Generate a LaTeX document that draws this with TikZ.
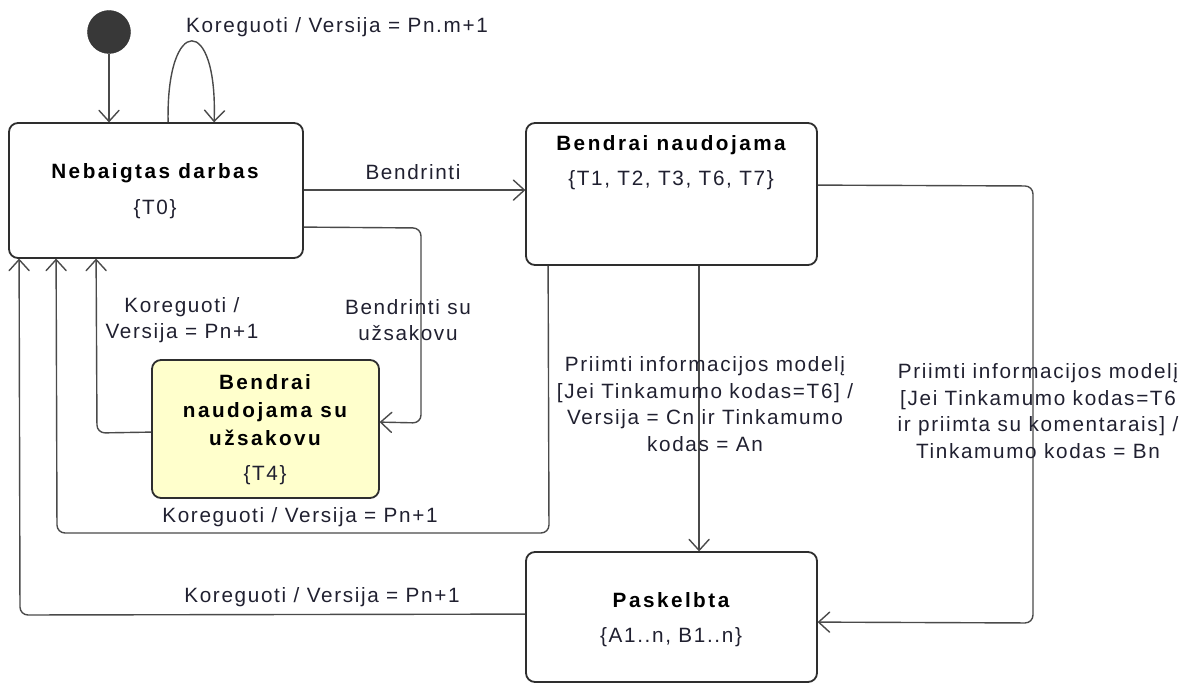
\documentclass[tikz,border=0pt]{standalone}
\usepackage{fontspec}
\setmainfont{Liberation Sans}[LetterSpace=8]
\usetikzlibrary{arrows.meta,calc}
\definecolor{ln}{HTML}{4A4A4A}
\definecolor{bd}{HTML}{2E2E2E}
\definecolor{yel}{HTML}{FFFFCC}
\definecolor{tx}{HTML}{202030}
\tikzset{
  box/.style={draw=bd, line width=1.8pt, rounded corners=9pt, fill=white, inner sep=0pt},
  arr/.style={draw=ln, line width=1.4pt, rounded corners=8pt,
    -{Straight Barb[length=11pt,width=20pt,line width=1.4pt,round]}},
  lbl/.style={font=\fontsize{20.7}{26.5}\selectfont, text=tx, align=center, inner sep=0pt},
  ttl/.style={font=\fontsize{20.7}{28}\selectfont\bfseries\addfontfeature{LetterSpace=12}, text=black, align=center, inner sep=0pt}
}
\begin{document}
\begin{tikzpicture}[x=1pt,y=-1pt]
\useasboundingbox (0,0) rectangle (1186,684);
% states
\node[box, minimum width=294pt, minimum height=135pt] (neb) at (156,190.5) {};
\node[box, minimum width=291pt, minimum height=142pt] (ben) at (671.5,194) {};
\node[box, fill=yel, minimum width=227pt, minimum height=138pt] (usz) at (265.5,429) {};
\node[box, minimum width=291pt, minimum height=130pt] (pas) at (671.5,617) {};
\node[circle, fill=bd!95, draw=bd, minimum size=43pt, inner sep=0pt] (init) at (109,32) {};
% state texts
\node[ttl] (nebT) at (155,173) {Nebaigtas darbas};
\node[lbl] (nebS) at (155,209) {\{T0\}};
\node[ttl] (benT) at (671,145) {Bendrai naudojama};
\node[lbl] (benS) at (671,180) {\{T1, T2, T3, T6, T7\}};
\node[ttl] (uszT) at (265,410) {Bendrai\\naudojama su\\užsakovu};
\node[lbl] (uszS) at (265,475) {\{T4\}};
\node[ttl] (pasT) at (671,600) {Paskelbta};
\node[lbl] (pasS) at (671,637) {\{A1..n, B1..n\}};
% connectors
\draw[arr] (init) -- (neb.north -| init);
\draw[arr] ($(neb.north west)+(160,0)$) .. controls (166,14) and (218,14) .. ($(neb.north west)+(206,0)$);
\draw[arr] ($(neb.north east)+(0,68)$) -- ($(ben.north west)+(0,68)$);
\draw[arr] ($(neb.north east)+(0,105)$) -- (421,228) -- (421,423) -- ($(usz.north east)+(0,63)$);
\draw[arr] ($(usz.north west)+(0,73)$) -- (97,433) -- ($(neb.south west)+(88,0)$);
\draw[arr] ($(ben.south west)+(23,0)$) -- (549,533) -- (57,533) -- ($(neb.south west)+(48,0)$);
\draw[arr] ($(ben.south west)+(174,0)$) -- ($(pas.north west)+(174,0)$);
\draw[arr] ($(ben.north east)+(0,63)$) -- (1033,186) -- (1033,623) -- ($(pas.north east)+(0,71)$);
\draw[arr] ($(pas.north west)+(0,63)$) -- (20,615) -- ($(neb.south west)+(11,0)$);
% connector labels
\node[lbl] (l1) at (337,27) {Koreguoti / Versija = Pn.m+1};
\node[lbl] (l2) at (413,172) {Bendrinti};
\node[lbl] (l3) at (408,320) {Bendrinti su\\užsakovu};
\node[lbl] (l4) at (182,320) {Koreguoti /\\Versija = Pn+1};
\node[lbl] (l5) at (300,517) {Koreguoti / Versija = Pn+1};
\node[lbl] (l6) at (322,597) {Koreguoti / Versija = Pn+1};
\node[lbl] (l7) at (705,404) {Priimti informacijos modelį\\{}[Jei Tinkamumo kodas=T6] /\\Versija = Cn ir Tinkamumo\\kodas = An};
\node[lbl] (l8) at (1038,411) {Priimti informacijos modelį\\{}[Jei Tinkamumo kodas=T6\\ir priimta su komentarais] /\\Tinkamumo kodas = Bn};
\end{tikzpicture}
\end{document}
